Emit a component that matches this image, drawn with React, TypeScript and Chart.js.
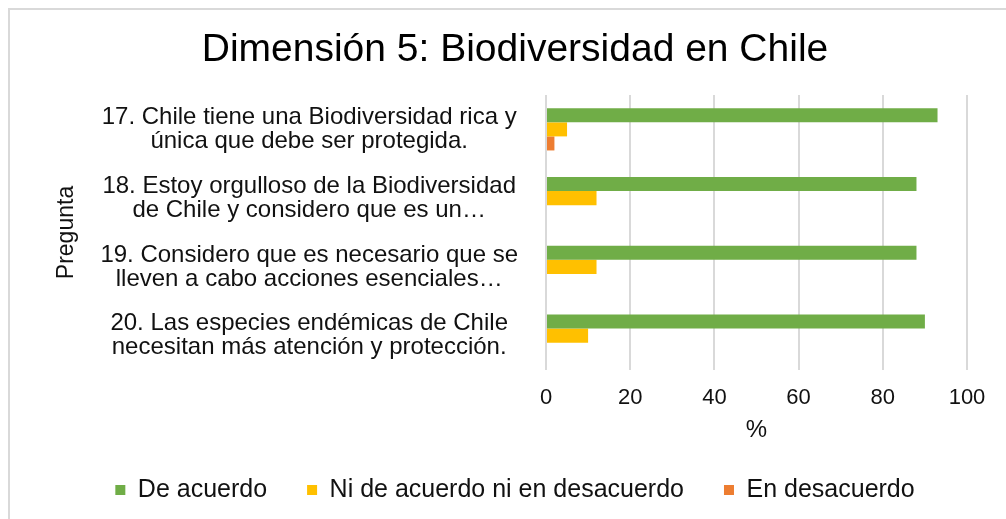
import React, { useEffect, useRef } from 'react';
import { Chart, registerables } from 'chart.js';

Chart.register(...registerables);

const FONT = "'Liberation Sans', Arial, Helvetica, sans-serif";

const categories: string[][] = [
  ['17. Chile tiene una Biodiversidad rica y', 'única que debe ser protegida.'],
  ['18. Estoy orgulloso de la Biodiversidad', 'de Chile y considero que es un…'],
  ['19. Considero que es necesario que se', 'lleven a cabo acciones esenciales…'],
  ['20. Las especies endémicas de Chile', 'necesitan más atención y protección.'],
];

const seriesNames = ['De acuerdo', 'Ni de acuerdo ni en desacuerdo', 'En desacuerdo'];
const deAcuerdo = [93, 88, 88, 90];
const niDeAcuerdo = [5, 12, 12, 10];
const enDesacuerdo = [2, 0, 0, 0];
const seriesColors = ['#70AD47', '#FFC000', '#ED7D31'];

const xTicks = [0, 20, 40, 60, 80, 100];

export default function App() {
  const ref = useRef<HTMLCanvasElement | null>(null);

  useEffect(() => {
    if (!ref.current) return;
    Chart.defaults.font.family = FONT;
    const values = [deAcuerdo, niDeAcuerdo, enDesacuerdo];
    const chart = new Chart(ref.current, {
      type: 'bar',
      data: {
        labels: categories as any,
        datasets: seriesNames.map((name, i) => ({
          label: name,
          data: values[i],
          backgroundColor: seriesColors[i],
          borderWidth: 0,
          categoryPercentage: 0.613,
          barPercentage: 1,
        })),
      },
      options: {
        responsive: false,
        animation: false,
        indexAxis: 'y',
        layout: { padding: { left: 53, right: 39, top: 0, bottom: 6.5 } },
        plugins: {
          title: {
            display: true,
            text: 'Dimensión 5: Biodiversidad en Chile',
            color: '#000',
            font: { size: 39, weight: 'normal', lineHeight: 1.2, family: FONT },
            padding: { top: 16.6, bottom: 21.6 },
          },
          legend: {
            position: 'bottom',
            labels: {
              boxWidth: 10,
              boxHeight: 10,
              padding: 40,
              color: '#111',
              font: { size: 25, family: FONT },
            },
          },
          tooltip: { enabled: false },
        },
        scales: {
          x: {
            min: xTicks[0],
            max: xTicks[xTicks.length - 1],
            afterBuildTicks: (s: any) => {
              s.ticks = xTicks.map((v) => ({ value: v }));
            },
            ticks: { padding: 15, color: '#111', font: { size: 22, family: FONT } },
            grid: { color: '#d9d9d9', lineWidth: 2, drawTicks: false },
            border: { display: false },
            title: {
              display: true,
              text: '%',
              color: '#111',
              font: { size: 24, lineHeight: 1, family: FONT },
              padding: { top: -8.4, bottom: -4.5 },
            },
          },
          y: {
            ticks: {
              crossAlign: 'center',
              padding: 28,
              autoSkip: false,
              color: '#111',
              font: { size: 24, lineHeight: 1, family: FONT },
            },
            grid: { display: false, drawTicks: false },
            border: { display: false },
            title: {
              display: true,
              text: 'Pregunta',
              color: '#111',
              font: { size: 23, lineHeight: 1.2, family: FONT },
              padding: { top: -9.8, bottom: 0 },
            },
            afterFit: (s: any) => {
              s.width = 483;
            },
          },
        },
      } as any,
    });
    return () => chart.destroy();
  }, []);

  return (
    <div
      style={{
        position: 'absolute',
        left: 8,
        top: 8,
        width: 998,
        height: 511,
        boxSizing: 'border-box',
        borderLeft: '2px solid #d9d9d9',
        borderTop: '2px solid #d9d9d9',
        overflow: 'hidden',
        background: '#fff',
      }}
    >
      <canvas ref={ref} width={996} height={509} style={{ display: 'block', width: 996, height: 509 }} />
    </div>
  );
}
